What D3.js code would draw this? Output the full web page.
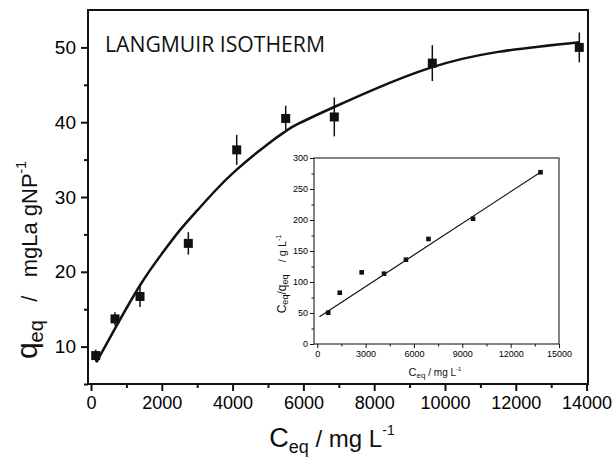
<!DOCTYPE html>
<html>
<head>
<meta charset="utf-8">
<script src="https://cdn.jsdelivr.net/npm/d3@7"></script>
<style>
  body { margin: 0; background: #fff; }
  svg { display: block; font-family: "Liberation Sans", Arial, sans-serif; }
  tspan { white-space: pre; }
</style>
</head>
<body>
<svg id="chart" width="612" height="458"></svg>
<script>
// main isotherm data
const ceq = [133, 678, 1384, 2749, 4116, 5500, 6873, 9642, 13794];
const qeq = [8.8, 13.7, 16.7, 23.8, 36.3, 40.5, 40.7, 47.9, 50.0];
const qerr = [0.8, 0.9, 1.4, 1.5, 2.0, 1.7, 2.6, 2.4, 2.0];

// fitted curve
const fitC = [150, 700, 1400, 2000, 2500, 3000, 3500, 4100, 5000, 5500, 5900, 6900, 8000, 9600, 11500, 13800];
const fitQ = [7.9, 12.6, 18.3, 22.4, 25.5, 28.2, 30.8, 33.6, 37.1, 38.8, 39.9, 42.1, 44.4, 47.3, 49.4, 50.7];

// inset (linearised form)
const insetC = [680, 1398, 2758, 4143, 5504, 6902, 9666, 13853];
const insetR = [50.5, 82.7, 115.6, 113.4, 136, 169.4, 202, 277];
const insetLineC = [140, 13900];
const insetLineR = [44, 278];

const xTicks = [0, 2000, 4000, 6000, 8000, 10000, 12000, 14000];
const xMinor = [1000, 3000, 5000, 7000, 9000, 11000, 13000];
const yTicks = [10, 20, 30, 40, 50];
const yMinor = [5, 15, 25, 35, 45];
const insetXTicks = [0, 3000, 6000, 9000, 12000, 15000];
const insetXMinor = [1500, 4500, 7500, 10500, 13500];
const insetYTicks = [0, 50, 100, 150, 200, 250, 300];
const insetYMinor = [25, 75, 125, 175, 225, 275];

const svg = d3.select("#chart");

const x = d3.scaleLinear().domain([-85, 14040]).range([88, 588]);
const y = d3.scaleLinear().domain([5, 55]).range([384, 10]);

function styleAxis(g, width, fontSize) {
    g.select(".domain").remove();
    g.selectAll("line").attr("stroke", "#111").attr("stroke-width", width);
    g.selectAll("text").attr("fill", "#000").style("font-size", fontSize + "px");
}

// main axes
svg.append("g")
    .attr("transform", "translate(0,384)")
    .call(d3.axisBottom(x).tickValues(xTicks).tickSize(7).tickPadding(5).tickFormat(d3.format("d")))
    .call(g => styleAxis(g, 2, 18));
svg.append("g")
    .attr("transform", "translate(0,384)")
    .call(d3.axisBottom(x).tickValues(xMinor).tickSize(4).tickFormat(""))
    .call(g => styleAxis(g, 2, 18));
svg.append("g")
    .attr("transform", "translate(88,0)")
    .call(d3.axisLeft(y).tickValues(yTicks).tickSize(7).tickPadding(5))
    .call(g => styleAxis(g, 2, 19));
svg.append("g")
    .attr("transform", "translate(88,0)")
    .call(d3.axisLeft(y).tickValues(yMinor).tickSize(4).tickFormat(""))
    .call(g => styleAxis(g, 2, 19));

svg.append("rect")
    .attr("x", 88).attr("y", 10)
    .attr("width", 500).attr("height", 374)
    .attr("fill", "none")
    .attr("stroke", "#111")
    .attr("stroke-width", 2);

// fitted curve
const line = d3.line()
    .x((d, i) => x(fitC[i]))
    .y(d => y(d))
    .curve(d3.curveNatural);

svg.append("path")
    .datum(fitQ)
    .attr("d", line)
    .attr("fill", "none")
    .attr("stroke", "#111")
    .attr("stroke-width", 2.5);

// error bars + markers
const pts = svg.append("g");
pts.selectAll("line")
    .data(qeq)
    .join("line")
    .attr("x1", (d, i) => x(ceq[i]))
    .attr("x2", (d, i) => x(ceq[i]))
    .attr("y1", (d, i) => y(d - qerr[i]))
    .attr("y2", (d, i) => y(d + qerr[i]))
    .attr("stroke", "#111")
    .attr("stroke-width", 1.5);
pts.selectAll("rect")
    .data(qeq)
    .join("rect")
    .attr("x", (d, i) => x(ceq[i]) - 4.5)
    .attr("y", d => y(d) - 4.5)
    .attr("width", 9)
    .attr("height", 9)
    .attr("fill", "#111");

svg.append("text")
    .attr("x", 105).attr("y", 52)
    .attr("textLength", 220)
    .attr("lengthAdjust", "spacingAndGlyphs")
    .style("font-family", "'Open Sans', sans-serif")
    .style("font-size", "22px")
    .attr("fill", "#111")
    .text("LANGMUIR ISOTHERM");

// main axis titles
const xt = svg.append("text")
    .attr("x", 332).attr("y", 447)
    .attr("text-anchor", "middle")
    .attr("fill", "#111");
xt.append("tspan").style("font-size", "27px").text("C");
xt.append("tspan").style("font-size", "18px").attr("dy", 6).text("eq");
xt.append("tspan").style("font-size", "24px").attr("dy", -6).text(" / mg L");
xt.append("tspan").style("font-size", "14px").attr("dy", -12).text("-1");

const yt = svg.append("text")
    .attr("transform", "translate(37,260) rotate(-90)")
    .attr("text-anchor", "middle")
    .attr("fill", "#111");
yt.append("tspan").style("font-size", "30px").text("q");
yt.append("tspan").style("font-size", "20px").attr("dy", 6).text("eq");
yt.append("tspan").style("font-size", "22px").attr("dy", -6).text("   /   mgLa gNP");
yt.append("tspan").style("font-size", "14px").attr("dy", -11).text("-1");

// inset
const ix = d3.scaleLinear().domain([-200, 15000]).range([314, 559]);
const iy = d3.scaleLinear().domain([0, 300]).range([344, 158]);

svg.append("rect")
    .attr("x", 314).attr("y", 158)
    .attr("width", 245).attr("height", 186)
    .attr("fill", "#fff")
    .attr("stroke", "#333")
    .attr("stroke-width", 1.2);

svg.append("g")
    .attr("transform", "translate(0,344)")
    .call(d3.axisBottom(ix).tickValues(insetXTicks).tickSize(4).tickPadding(3).tickFormat(d3.format("d")))
    .call(g => styleAxis(g, 1, 9));
svg.append("g")
    .attr("transform", "translate(0,344)")
    .call(d3.axisBottom(ix).tickValues(insetXMinor).tickSize(2.5).tickFormat(""))
    .call(g => styleAxis(g, 1, 9));
svg.append("g")
    .attr("transform", "translate(314,0)")
    .call(d3.axisLeft(iy).tickValues(insetYTicks).tickSize(4).tickPadding(2))
    .call(g => styleAxis(g, 1, 9));
svg.append("g")
    .attr("transform", "translate(314,0)")
    .call(d3.axisLeft(iy).tickValues(insetYMinor).tickSize(2.5).tickFormat(""))
    .call(g => styleAxis(g, 1, 9));

svg.append("line")
    .attr("x1", ix(insetLineC[0])).attr("y1", iy(insetLineR[0]))
    .attr("x2", ix(insetLineC[1])).attr("y2", iy(insetLineR[1]))
    .attr("stroke", "#111")
    .attr("stroke-width", 1.2);

svg.append("g").selectAll("rect")
    .data(insetR)
    .join("rect")
    .attr("x", (d, i) => ix(insetC[i]) - 2.3)
    .attr("y", d => iy(d) - 2.3)
    .attr("width", 4.6)
    .attr("height", 4.6)
    .attr("fill", "#111");

const ixt = svg.append("text")
    .attr("x", 435).attr("y", 376)
    .attr("text-anchor", "middle")
    .attr("fill", "#111");
ixt.append("tspan").style("font-size", "11px").text("C");
ixt.append("tspan").style("font-size", "8px").attr("dy", 2).text("eq");
ixt.append("tspan").style("font-size", "10px").attr("dy", -2).text(" / mg L");
ixt.append("tspan").style("font-size", "6px").attr("dy", -5).text("-1");

const iyt = svg.append("text")
    .attr("transform", "translate(286,274) rotate(-90)")
    .attr("text-anchor", "middle")
    .attr("fill", "#111");
iyt.append("tspan").style("font-size", "12px").text("C");
iyt.append("tspan").style("font-size", "9px").attr("dy", 2).text("eq");
iyt.append("tspan").style("font-size", "12px").attr("dy", -2).text("/q");
iyt.append("tspan").style("font-size", "9px").attr("dy", 2).text("eq");
iyt.append("tspan").style("font-size", "11px").attr("dy", -2).text("    / g L");
iyt.append("tspan").style("font-size", "7px").attr("dy", -5).text("-1");
</script>
</body>
</html>
